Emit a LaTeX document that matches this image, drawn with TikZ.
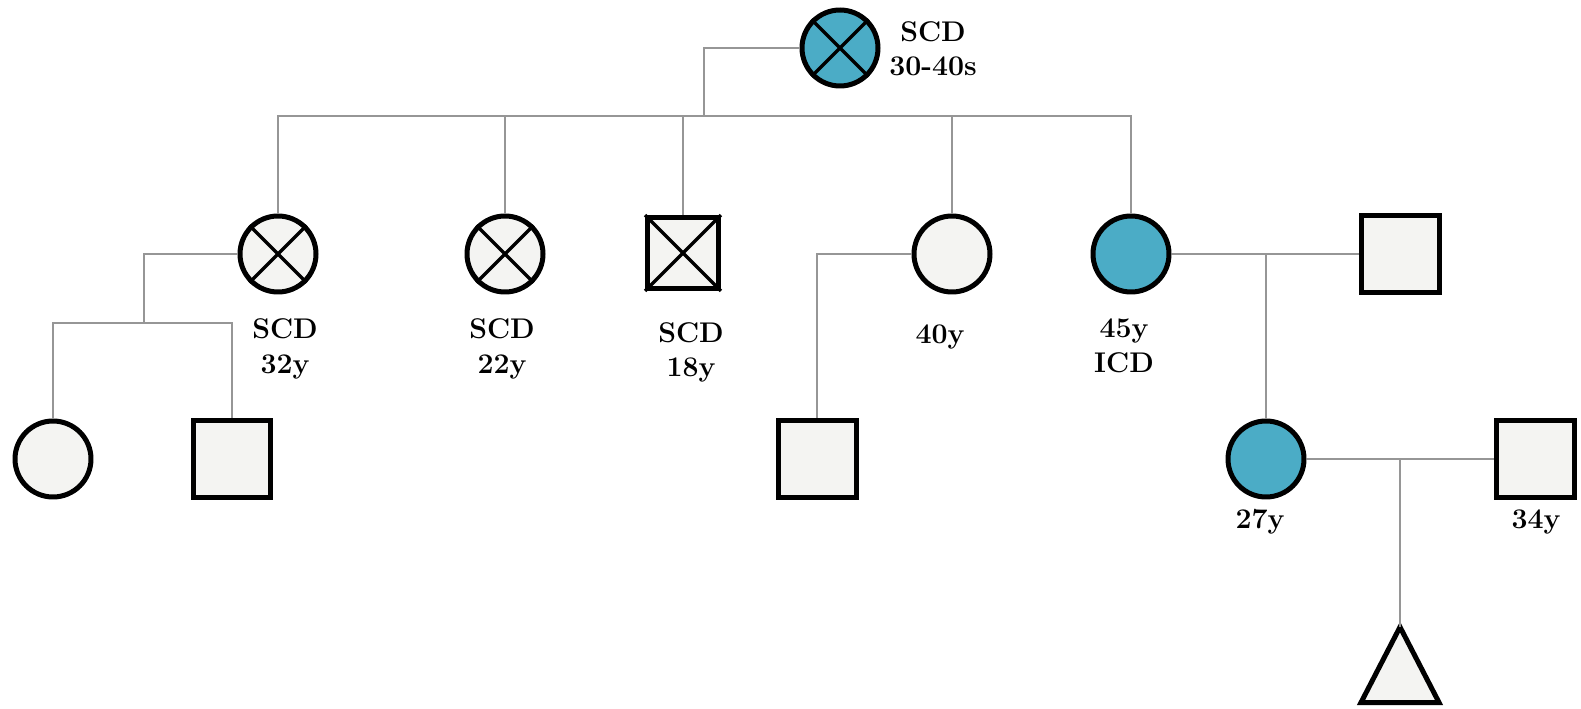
\documentclass[tikz,border=0pt]{standalone}
\usetikzlibrary{calc}
\definecolor{affected}{RGB}{75,172,198}
\definecolor{unaff}{RGB}{244,244,242}
\definecolor{link}{RGB}{150,150,150}
\begin{document}
\begin{tikzpicture}[x=0.02cm,y=-0.02cm,
  person/.style={draw=black,line width=0.1cm,fill=unaff,inner sep=0pt},
  female/.style={person,circle,minimum size=1.52cm},
  male/.style={person,rectangle,minimum size=1.56cm},
  aff/.style={fill=affected},
  cross/.style={black,line width=0.065cm},
  rel/.style={draw=link,line width=0.05cm},
  lbl/.style={font=\fontsize{16.2}{19.5}\selectfont\bfseries,align=center,anchor=base,inner sep=0pt}]
\useasboundingbox (0,0) rectangle (1581,709);

% generation I
\node[female,aff] (I1) at (840,48) {};
% generation II
\node[female] (II1) at (278,254) {};
\node[female] (II2) at (505,254) {};
\node[male,minimum size=1.42cm] (II3) at (683,253) {};
\node[female] (II4) at (952,254) {};
\node[female,aff] (II5) at (1131,254) {};
\node[male] (II6) at (1400,254) {};
% generation III
\node[female] (III1) at (53,459) {};
\node[male] (III2) at (232,459) {};
\node[male] (III3) at (817,459) {};
\node[female,aff] (III4) at (1266,459) {};
\node[male] (III5) at (1535,459) {};
% generation IV: pregnancy
\coordinate (IV1) at (1400,627);
\draw[person] (IV1) -- (1361,702.5) -- (1439,702.5) -- cycle;

% deceased marks
\foreach \n in {I1,II1,II2}{
  \draw[cross] (\n.45) -- (\n.225) (\n.135) -- (\n.315);
}
\draw[cross] (II3.north west) -- (II3.south east) (II3.north east) -- (II3.south west);

% lines of descent
\coordinate (sib) at (704,116);
\coordinate (c1) at (144,323);
\draw[rel] (I1.west) -| (sib);
\draw[rel] (II1.north) |- (sib) -| (II5.north);
\draw[rel] (II2.north) -- (II2.north |- sib);
\draw[rel] (II3.north) -- (II3.north |- sib);
\draw[rel] (II4.north) -- (II4.north |- sib);
\draw[rel] (II1.west) -| (c1);
\draw[rel] (III1.north) |- (c1) -| (III2.north);
\draw[rel] (II4.west) -| (III3.north);
\draw[rel] (II5.east) -- (II6.west);
\draw[rel] (II5.east -| III4.north) -- (III4.north);
\draw[rel] (III4.east) -- (III5.west);
\draw[rel] (III4.east -| IV1) -- (IV1);

% labels (anchored at the baseline of the last line)
\node[lbl] (t0) at (933,76) {SCD\\30-40s};
\node[lbl] (t1) at (285,373) {SCD\\32y};
\node[lbl] (t2) at (502,373) {SCD\\22y};
\node[lbl] (t3) at (691,377) {SCD\\18y};
\node[lbl] (t4) at (940,343) {40y};
\node[lbl] (t5) at (1124,372) {45y\\ICD};
\node[lbl] (t6) at (1260,528) {27y};
\node[lbl] (t7) at (1536,528) {34y};
\end{tikzpicture}
\end{document}
